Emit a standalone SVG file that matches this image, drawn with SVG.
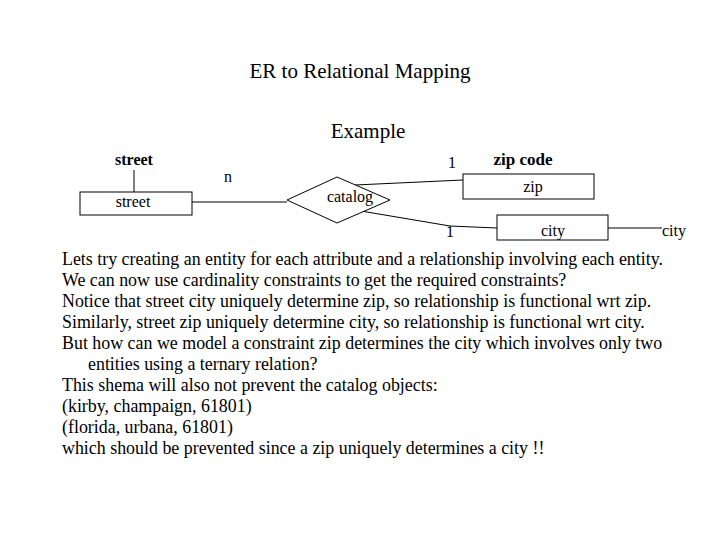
<svg xmlns="http://www.w3.org/2000/svg" width="720" height="540" viewBox="0 0 720 540">
<style>
text{font-family:"Liberation Serif",serif;fill:#000}
.b{font-weight:bold}
.s{fill:#fff;stroke:#000;stroke-width:1}
.l{stroke:#000;stroke-width:1;fill:none}
.t{font-size:17.9px}
</style>
<rect width="720" height="540" fill="#fff"/>
<text x="360" y="78" font-size="21" text-anchor="middle">ER to Relational Mapping</text>
<text x="368" y="138" font-size="21" text-anchor="middle">Example</text>
<g id="connectors">
<path class="l" d="M134 170V192M192 202H287M355 185L463 180M355 210L450 226L497 228M608 228H662"/>
</g>
<g id="street"><rect class="s" x="80" y="192" width="112" height="23"/><text x="133" y="207" font-size="16" text-anchor="middle">street</text></g>
<g id="street-attr"><text class="b" x="134" y="165" font-size="16" text-anchor="middle">street</text></g>
<g id="catalog"><polygon class="s" points="287,200 337,177 390,200 337,223"/><text x="350" y="202" font-size="16" text-anchor="middle">catalog</text></g>
<g id="zip"><rect class="s" x="463" y="174" width="131" height="25"/><text x="533" y="192" font-size="16" text-anchor="middle">zip</text></g>
<g id="zipcode"><text class="b" x="523" y="165" font-size="17" text-anchor="middle">zip code</text></g>
<g id="city"><rect class="s" x="497" y="215" width="111" height="25"/><text x="553" y="236" font-size="16" text-anchor="middle">city</text></g>
<g id="city-attr"><text x="674" y="236" font-size="16" text-anchor="middle">city</text></g>
<text x="228" y="182" font-size="16" text-anchor="middle">n</text>
<text x="452" y="168" font-size="16" text-anchor="middle">1</text>
<text x="450" y="237" font-size="16" text-anchor="middle">1</text>
<g class="t">
<text x="62" y="265">Lets try creating an entity for each attribute and a relationship involving each entity.</text>
<text x="62" y="286">We can now use cardinality constraints to get the required constraints?</text>
<text x="62" y="307">Notice that street city uniquely determine zip, so relationship is functional wrt zip.</text>
<text x="62" y="328">Similarly, street zip uniquely determine city, so relationship is functional wrt city.</text>
<text x="62" y="349">But how can we model a constraint zip determines the city which involves only two</text>
<text x="88" y="370">entities using a ternary relation?</text>
<text x="62" y="391">This shema will also not prevent the catalog objects:</text>
<text x="62" y="412">(kirby, champaign, 61801)</text>
<text x="62" y="433">(florida, urbana, 61801)</text>
<text x="62" y="454">which should be prevented since a zip uniquely determines a city !!</text>
</g>
</svg>
